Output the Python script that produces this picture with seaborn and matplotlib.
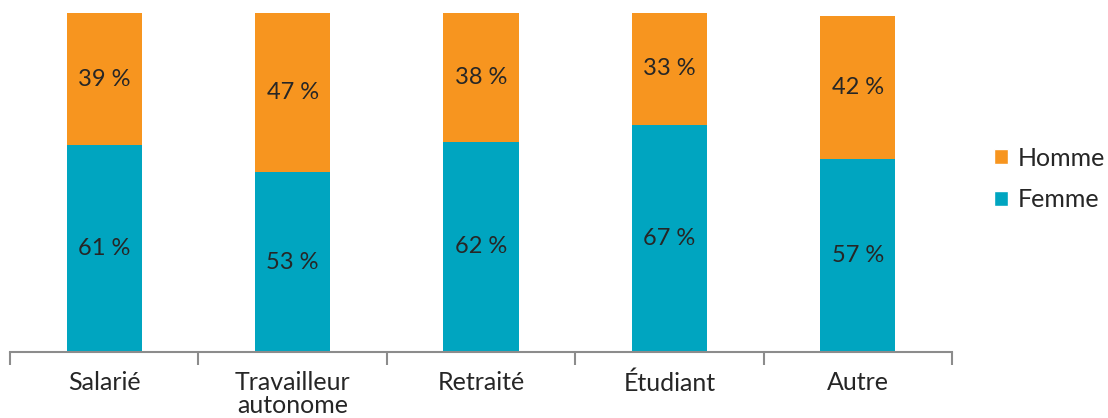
import matplotlib
matplotlib.use("Agg")
import matplotlib.pyplot as plt
import seaborn as sns
import pandas as pd
from matplotlib.patches import Patch

categories = ["Salarié", "Travailleur\nautonome", "Retraité", "Étudiant", "Autre"]
femme = [61, 53, 62, 67, 57]
homme = [39, 47, 38, 33, 42]

TEAL = "#00A5C0"
ORANGE = "#F7951F"

sns.set_theme(style="white")
plt.rcParams['font.family'] = ['Lato', 'DejaVu Sans']

fig = plt.figure(figsize=(11.08, 4.18), dpi=100)
ax = fig.add_axes([10/1108, 1-352/418, (952-10)/1108, (352-13)/418])

df = pd.DataFrame({"cat": categories, "femme": femme, "homme": homme})
sns.barplot(data=df, x="cat", y="femme", color=TEAL, width=0.4, ax=ax,
            saturation=1, linewidth=0)
sns.barplot(data=df, x="cat", y="homme", color=ORANGE, width=0.4, ax=ax,
            saturation=1, linewidth=0, bottom=df["femme"])

for cont, vals in zip(ax.containers, [femme, homme]):
    ax.bar_label(cont, labels=[f"{v} %" for v in vals], label_type="center",
                 fontsize=17, fontweight="normal", color="#262626")

ax.set_xlim(-0.5, 4.5)
ax.set_ylim(0, 100)
ax.set_xlabel("")
ax.set_ylabel("")
ax.set_yticks([])
for s in ["top", "right", "left"]:
    ax.spines[s].set_visible(False)
ax.spines["bottom"].set_color("#8c8c8c")
ax.spines["bottom"].set_linewidth(1.5)

ax.set_xticks([-0.5, 0.5, 1.5, 2.5, 3.5, 4.5], minor=True)
ax.tick_params(axis="x", which="minor", length=9, width=1.5, color="#8c8c8c",
               direction="out", bottom=True)
ax.tick_params(axis="x", which="major", length=0, pad=14, labelsize=18,
               labelcolor="#262626")
for t in ax.get_xticklabels():
    t.set_fontweight("normal")
    t.set_linespacing(1.0)
    t.set_verticalalignment("top")

handles = [Patch(facecolor=ORANGE, label="Homme"), Patch(facecolor=TEAL, label="Femme")]
fig.legend(handles=handles, loc="center left", bbox_to_anchor=(994/1108, 1-179/418),
           frameon=False, borderpad=0, borderaxespad=0, handlelength=0.55, handleheight=0.55,
           handletextpad=0.4, labelspacing=0.75, prop={"weight": "normal", "size": 18})
for t in fig.legends[0].get_texts():
    t.set_color("#262626")

fig.savefig("out.png", dpi=100)
